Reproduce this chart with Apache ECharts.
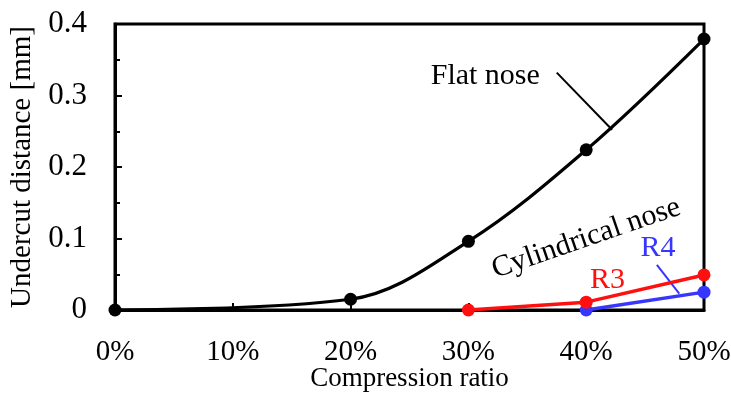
<!DOCTYPE html>
<html>
<head>
<meta charset="utf-8">
<script src="https://cdn.jsdelivr.net/npm/echarts@6/dist/echarts.min.js"></script>
<style>
  html, body { margin: 0; padding: 0; background: #fff; }
  #chart { width: 731px; height: 394px; }
</style>
</head>
<body>
<div id="chart"></div>
<script>
// Compression ratio (%) and undercut distance (mm)
const flatRatio = [0, 20, 30, 40, 50];
const flatUndercut = [0, 0.015, 0.096, 0.224, 0.379];
const r3Ratio = [30, 40, 50];
const r3Undercut = [0, 0.011, 0.049];
const r4Ratio = [40, 50];
const r4Undercut = [0, 0.025];
const xTicks = [0, 10, 20, 30, 40, 50];
const yTicks = [0, 0.1, 0.2, 0.3, 0.4];

const FONT = '"Liberation Serif", "Times New Roman", serif';
const RED = '#FF1010';
const BLUE = '#3636FF';

const pairs = (xs, ys) => xs.map((x, i) => [x, ys[i]]);

const chart = echarts.init(document.getElementById('chart'), null, { renderer: 'canvas' });

const option = {
  backgroundColor: '#fff',
  animation: false,
  grid: {
    left: 115, right: 27, top: 24, bottom: 84,
    outerBoundsMode: 'none',
    show: true, borderColor: '#000', borderWidth: 3, backgroundColor: 'transparent'
  },
  xAxis: {
    type: 'value',
    min: xTicks[0], max: xTicks[xTicks.length - 1], interval: 10,
    axisLine: { show: true, onZero: false, lineStyle: { color: '#000', width: 3 } },
    axisTick: { show: true, inside: true, length: 7, lineStyle: { color: '#000', width: 2 } },
    axisLabel: { formatter: '{value}%', fontFamily: FONT, fontSize: 29, color: '#000', margin: 28 },
    splitLine: { show: false }
  },
  yAxis: {
    type: 'value',
    min: yTicks[0], max: yTicks[yTicks.length - 1], interval: 0.1,
    axisLine: { show: true, lineStyle: { color: '#000', width: 3 } },
    axisTick: { show: true, inside: true, length: 7, lineStyle: { color: '#000', width: 2 } },
    minorTick: { show: true, splitNumber: 2, length: 5, lineStyle: { color: '#000', width: 2 } },
    axisLabel: {
      fontFamily: FONT, fontSize: 31, color: '#000', margin: 28,
      formatter: v => (v === 0 ? '0' : v.toFixed(1))
    },
    splitLine: { show: false }
  },
  series: [
    {
      name: 'Flat nose', type: 'line',
      data: pairs(flatRatio, flatUndercut),
      smooth: 0.35,
      symbol: 'circle', symbolSize: 13,
      lineStyle: { color: '#000', width: 3.2 },
      itemStyle: { color: '#000' }, z: 3
    },
    {
      name: 'R4', type: 'line',
      data: pairs(r4Ratio, r4Undercut),
      symbol: 'circle', symbolSize: 13,
      lineStyle: { color: BLUE, width: 3.5 },
      itemStyle: { color: BLUE }, z: 4
    },
    {
      name: 'R3', type: 'line',
      data: pairs(r3Ratio, r3Undercut),
      symbol: 'circle', symbolSize: 13,
      lineStyle: { color: RED, width: 3.5 },
      itemStyle: { color: RED }, z: 5
    }
  ]
};

chart.setOption(option);

// Annotations placed in data space, converted to pixels
const px = (x, y) => chart.convertToPixel({ gridIndex: 0 }, [x, y]);

const origin = px(xTicks[0], yTicks[0]);
const yMid = px(0, (yTicks[0] + yTicks[yTicks.length - 1]) / 2);
const xMid = px((xTicks[0] + xTicks[xTicks.length - 1]) / 2, 0);
const flatTxt = px(26.8, 0.327);
const flatL1 = px(37.5, 0.332), flatL2 = px(42.2, 0.252);
const cylTxt = px(40.0, 0.100);
const r3Txt = px(41.8, 0.042);
const r4Txt = px(46.1, 0.086);
const r4L1 = px(46.0, 0.063), r4L2 = px(47.9, 0.023);

chart.setOption({
  graphic: [
    {
      // y-axis title
      type: 'text', x: 22, y: yMid[1], rotation: Math.PI / 2,
      style: { text: 'Undercut distance [mm]', font: '29px ' + FONT, fill: '#000', align: 'center', verticalAlign: 'middle' }
    },
    {
      // x-axis title
      type: 'text', x: xMid[0], y: origin[1] + 69,
      style: { text: 'Compression ratio', font: '27px ' + FONT, fill: '#000', align: 'center', verticalAlign: 'middle' }
    },
    {
      type: 'text', x: flatTxt[0], y: flatTxt[1],
      style: { text: 'Flat nose', font: '30px ' + FONT, fill: '#000', align: 'left', verticalAlign: 'middle' }
    },
    {
      type: 'line', shape: { x1: flatL1[0], y1: flatL1[1], x2: flatL2[0], y2: flatL2[1] },
      style: { stroke: '#000', lineWidth: 2 }
    },
    {
      type: 'text', x: cylTxt[0], y: cylTxt[1], rotation: 19 * Math.PI / 180,
      style: { text: 'Cylindrical nose', font: '30px ' + FONT, fill: '#000', align: 'center', verticalAlign: 'middle' }
    },
    {
      type: 'text', x: r3Txt[0], y: r3Txt[1],
      style: { text: 'R3', font: '30px ' + FONT, fill: RED, align: 'center', verticalAlign: 'middle' }
    },
    {
      type: 'text', x: r4Txt[0], y: r4Txt[1],
      style: { text: 'R4', font: '30px ' + FONT, fill: BLUE, align: 'center', verticalAlign: 'middle' }
    },
    {
      type: 'line', shape: { x1: r4L1[0], y1: r4L1[1], x2: r4L2[0], y2: r4L2[1] },
      style: { stroke: BLUE, lineWidth: 2 }
    }
  ]
});
</script>
</body>
</html>
